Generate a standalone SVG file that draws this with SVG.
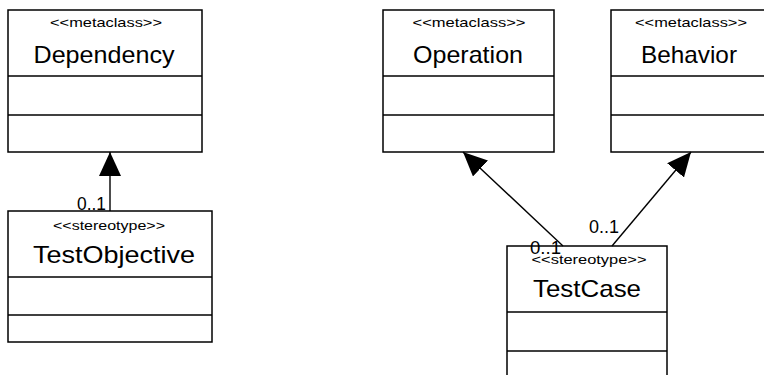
<svg xmlns="http://www.w3.org/2000/svg" width="764" height="375" viewBox="0 0 764 375">
<style>
.box{fill:#fff;stroke:#000;stroke-width:1.5}
.div{stroke:#000;stroke-width:1.5}
.st{font-family:"Liberation Sans",Arial,sans-serif;font-size:13px;fill:#000;text-anchor:middle}
.nm{font-family:"Liberation Sans",Arial,sans-serif;font-size:24px;fill:#000;text-anchor:middle}
.ml{font-family:"Liberation Sans",Arial,sans-serif;font-size:18px;fill:#000}
.cn{stroke:#000;stroke-width:1.4;fill:none;marker-end:url(#tri)}
</style>
<defs>
<marker id="tri" markerUnits="userSpaceOnUse" viewBox="0 0 24 22" refX="24" refY="11" markerWidth="24" markerHeight="22" orient="auto">
<path d="M0,0 L24,11 L0,22 Z" fill="#000"/>
</marker>
</defs>
<rect width="764" height="375" fill="#fff"/>
<g id="dependency">
<rect class="box" x="8" y="10" width="194" height="142"/>
<line class="div" x1="8" y1="76" x2="202" y2="76"/>
<line class="div" x1="8" y1="115" x2="202" y2="115"/>
<text class="st" x="106" y="27" textLength="112" lengthAdjust="spacingAndGlyphs">&lt;&lt;metaclass&gt;&gt;</text>
<text class="nm" x="104" y="63" textLength="141" lengthAdjust="spacingAndGlyphs">Dependency</text>
</g>
<g id="testobjective">
<rect class="box" x="8" y="211" width="204" height="131"/>
<line class="div" x1="8" y1="277" x2="212" y2="277"/>
<line class="div" x1="8" y1="315" x2="212" y2="315"/>
<text class="st" x="109" y="230" textLength="112" lengthAdjust="spacingAndGlyphs">&lt;&lt;stereotype&gt;&gt;</text>
<text class="nm" x="114" y="263" textLength="162" lengthAdjust="spacingAndGlyphs">TestObjective</text>
</g>
<g id="operation">
<rect class="box" x="383" y="10" width="171" height="142"/>
<line class="div" x1="383" y1="76" x2="554" y2="76"/>
<line class="div" x1="383" y1="115" x2="554" y2="115"/>
<text class="st" x="469" y="27" textLength="113" lengthAdjust="spacingAndGlyphs">&lt;&lt;metaclass&gt;&gt;</text>
<text class="nm" x="468" y="63" textLength="110" lengthAdjust="spacingAndGlyphs">Operation</text>
</g>
<g id="behavior">
<rect class="box" x="611" y="10" width="170" height="142"/>
<line class="div" x1="611" y1="76" x2="781" y2="76"/>
<line class="div" x1="611" y1="115" x2="781" y2="115"/>
<text class="st" x="691" y="27" textLength="112" lengthAdjust="spacingAndGlyphs">&lt;&lt;metaclass&gt;&gt;</text>
<text class="nm" x="689" y="63" textLength="96" lengthAdjust="spacingAndGlyphs">Behavior</text>
</g>
<g id="testcase">
<rect class="box" x="507" y="246" width="160" height="140"/>
<line class="div" x1="507" y1="312" x2="667" y2="312"/>
<line class="div" x1="507" y1="351" x2="667" y2="351"/>
<text class="st" x="589" y="264" textLength="115" lengthAdjust="spacingAndGlyphs">&lt;&lt;stereotype&gt;&gt;</text>
<text class="nm" x="587" y="297" textLength="108" lengthAdjust="spacingAndGlyphs">TestCase</text>
</g>
<g id="connectors">
<line class="cn" x1="110" y1="211" x2="110" y2="152"/>
<line class="cn" x1="563" y1="246" x2="463" y2="152"/>
<line class="cn" x1="612" y1="246" x2="691" y2="152"/>
<text class="ml" x="77" y="210" textLength="29" lengthAdjust="spacingAndGlyphs">0..1</text>
<text class="ml" x="589" y="233" textLength="30" lengthAdjust="spacingAndGlyphs">0..1</text>
<text class="ml" x="530" y="254" textLength="31" lengthAdjust="spacingAndGlyphs">0..1</text>
</g>
</svg>
